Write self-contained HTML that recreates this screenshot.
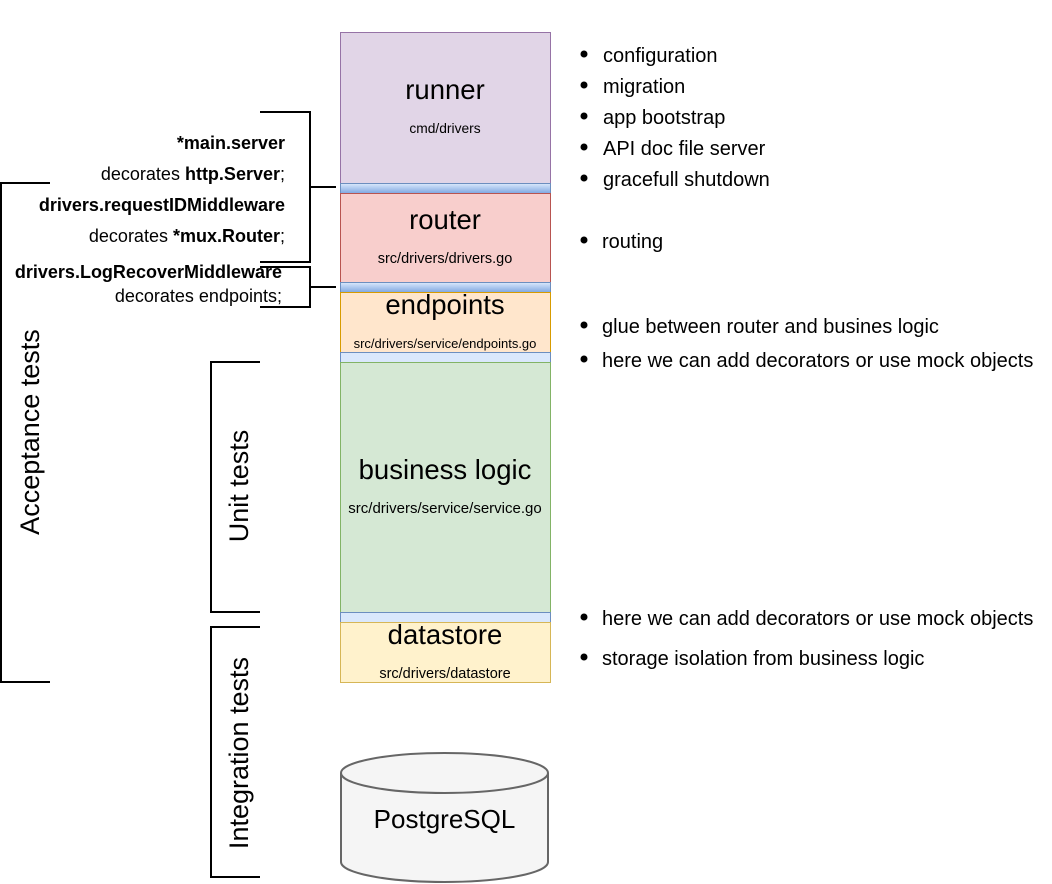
<!DOCTYPE html>
<html><head><meta charset="utf-8"><style>
html,body{margin:0;padding:0;background:#fff;}
svg{display:block;font-family:"Liberation Sans",Arial,sans-serif;}
</style></head><body>
<svg width="1052" height="884" viewBox="0 0 1052 884" xmlns="http://www.w3.org/2000/svg">
<defs>
<linearGradient id="bb" x1="0" y1="0" x2="0" y2="1"><stop offset="0" stop-color="#dae8fc"/><stop offset="1" stop-color="#7ea6e0"/></linearGradient>
</defs>
<rect x="340.5" y="32.5" width="210" height="151" fill="#e1d5e7" stroke="#9673a6"/>
<rect x="340.5" y="183.5" width="210" height="10" fill="url(#bb)" stroke="#6c8ebf"/>
<rect x="340.5" y="193.5" width="210" height="89" fill="#f8cecc" stroke="#b85450"/>
<rect x="340.5" y="282.5" width="210" height="10" fill="url(#bb)" stroke="#6c8ebf"/>
<rect x="340.5" y="292.5" width="210" height="60" fill="#ffe6cc" stroke="#d79b00"/>
<rect x="340.5" y="352.5" width="210" height="10" fill="#dae8fc" stroke="#6c8ebf"/>
<rect x="340.5" y="362.5" width="210" height="250" fill="#d5e8d4" stroke="#82b366"/>
<rect x="340.5" y="612.5" width="210" height="10" fill="#dae8fc" stroke="#6c8ebf"/>
<rect x="340.5" y="622.5" width="210" height="60" fill="#fff2cc" stroke="#d6b656"/>
<g text-anchor="middle" fill="#000">
<text x="445" y="99" font-size="27.5">runner</text>
<text x="445" y="133" font-size="13.8">cmd/drivers</text>
<text x="445" y="229" font-size="27.5">router</text>
<text x="445" y="263" font-size="14.5">src/drivers/drivers.go</text>
<text x="445" y="314" font-size="27.5">endpoints</text>
<text x="445" y="348" font-size="13">src/drivers/service/endpoints.go</text>
<text x="445" y="479" font-size="27.5">business logic</text>
<text x="445" y="513" font-size="15">src/drivers/service/service.go</text>
<text x="445" y="644" font-size="27.5">datastore</text>
<text x="445" y="678" font-size="14.5">src/drivers/datastore</text>
</g>
<path d="M341 773 L341 862 A103.5 20 0 0 0 548 862 L548 773" fill="#f5f5f5" stroke="#666" stroke-width="2"/>
<ellipse cx="444.5" cy="773" rx="103.5" ry="20" fill="#f5f5f5" stroke="#666" stroke-width="2"/>
<text x="444.5" y="828" font-size="26" text-anchor="middle">PostgreSQL</text>
<g fill="none" stroke="#000" stroke-width="2">
<path d="M260 112 H310 V262 H260 M310 187 H336"/>
<path d="M260 267 H310 V307 H260 M310 287 H336"/>
<path d="M50 183 H1 V682 H50"/>
<path d="M260 362 H211 V612 H260"/>
<path d="M260 627 H211 V877 H260"/>
</g>
<g font-size="27" text-anchor="middle">
<text transform="translate(39,432) rotate(-90)">Acceptance tests</text>
<text transform="translate(248,486) rotate(-90)">Unit tests</text>
<text transform="translate(248,753) rotate(-90)">Integration tests</text>
</g>
<g font-size="18" text-anchor="end">
<text x="285" y="149" font-weight="bold">*main.server</text>
<text x="285" y="180">decorates <tspan font-weight="bold">http.Server</tspan>;</text>
<text x="285" y="211" font-weight="bold">drivers.requestIDMiddleware</text>
<text x="285" y="242">decorates <tspan font-weight="bold">*mux.Router</tspan>;</text>
<text x="282" y="278" font-weight="bold">drivers.LogRecoverMiddleware</text>
<text x="282" y="302">decorates endpoints;</text>
</g>
<g font-size="20">
<circle cx="584" cy="54" r="3.5"/><text x="603" y="62">configuration</text>
<circle cx="584" cy="85" r="3.5"/><text x="603" y="93">migration</text>
<circle cx="584" cy="116" r="3.5"/><text x="603" y="124">app bootstrap</text>
<circle cx="584" cy="147" r="3.5"/><text x="603" y="155">API doc file server</text>
<circle cx="584" cy="178" r="3.5"/><text x="603" y="186">gracefull shutdown</text>
<circle cx="584" cy="240" r="3.5"/><text x="602" y="248">routing</text>
<circle cx="584" cy="325" r="3.5"/><text x="602" y="333">glue between router and busines logic</text>
<circle cx="584" cy="359" r="3.5"/><text x="602" y="367">here we can add decorators or use mock objects</text>
<circle cx="584" cy="617" r="3.5"/><text x="602" y="625">here we can add decorators or use mock objects</text>
<circle cx="584" cy="657" r="3.5"/><text x="602" y="665">storage isolation from business logic</text>
</g>
</svg>
</body></html>
